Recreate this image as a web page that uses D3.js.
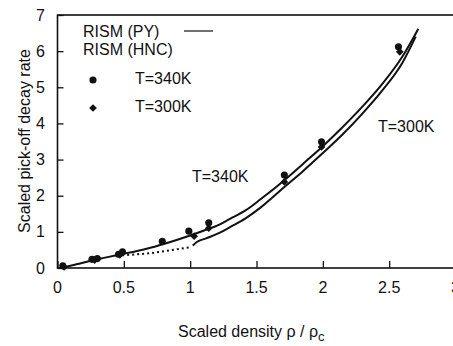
<!DOCTYPE html>
<html>
<head>
<meta charset="utf-8">
<script src="https://cdn.jsdelivr.net/npm/d3@7"></script>
<style>
  body { margin: 0; background: #fff; }
  text { font-family: "Liberation Sans", Arial, sans-serif; fill: #111; }
</style>
</head>
<body>
<script>
(function () {

    //curve: [scaled density, scaled rate]
    var curve340 = [[0.05, 0.02], [0.15, 0.11], [0.25, 0.2], [0.35, 0.28], [0.48, 0.38], [0.6, 0.47], [0.7, 0.56],
        [0.85, 0.72], [1.0, 0.9], [1.1, 1.03], [1.22, 1.2], [1.3, 1.36], [1.42, 1.6], [1.53, 1.9], [1.71, 2.43],
        [1.85, 2.88], [2.0, 3.37], [2.15, 3.9], [2.3, 4.47], [2.45, 5.1], [2.6, 5.85], [2.72, 6.62]];
    var curve300 = [[1.02, 0.62], [1.05, 0.72], [1.12, 0.82], [1.22, 0.97], [1.3, 1.13], [1.42, 1.38], [1.53, 1.67],
        [1.71, 2.24], [1.85, 2.68], [2.0, 3.18], [2.15, 3.7], [2.3, 4.28], [2.45, 4.92], [2.6, 5.68], [2.7, 6.4]];
    var curveDotted = [[0.45, 0.34], [0.6, 0.38], [0.7, 0.41], [0.85, 0.49], [1.01, 0.58]];

    var dots340x = [0.04, 0.26, 0.30, 0.46, 0.49, 0.79, 0.99, 1.14, 1.71, 1.99, 2.57];
    var dots340y = [0.06, 0.24, 0.26, 0.38, 0.45, 0.74, 1.02, 1.25, 2.57, 3.49, 6.12];
    var diam300x = [0.05, 0.28, 0.47, 1.03, 1.14, 1.71, 1.99, 2.58];
    var diam300y = [0.03, 0.22, 0.36, 0.88, 1.10, 2.38, 3.35, 5.98];

    var xTicks = [0, 0.5, 1, 1.5, 2, 2.5, 3];
    var yTicks = [0, 1, 2, 3, 4, 5, 6, 7];

    var width = 453,
        height = 346;

    var svg = d3.select("body")
        .append("svg")
        .attr("width", width)
        .attr("height", height);

    var x = d3.scaleLinear().domain([0, 3]).range([57.5, 455.5]);
    var y = d3.scaleLinear().domain([0, 7]).range([268, 15]);

    //frame (right side falls off the picture)
    svg.append("rect")
        .attr("x", x(0))
        .attr("y", y(7))
        .attr("width", x(3) - x(0))
        .attr("height", y(0) - y(7))
        .attr("fill", "none")
        .attr("stroke", "#111")
        .attr("stroke-width", 1.6);

    //ticks point inward
    var xAxis = svg.append("g")
        .attr("transform", "translate(0," + y(0) + ")")
        .call(d3.axisTop(x).tickValues(xTicks).tickSize(7).tickFormat(""));
    xAxis.select(".domain").remove();
    xAxis.selectAll("line").attr("stroke", "#111").attr("stroke-width", 1.3);

    var yAxis = svg.append("g")
        .attr("transform", "translate(" + x(0) + ",0)")
        .call(d3.axisRight(y).tickValues(yTicks).tickSize(6).tickFormat(""));
    yAxis.select(".domain").remove();
    yAxis.selectAll("line").attr("stroke", "#111").attr("stroke-width", 1.3);

    svg.selectAll(".xlabel")
        .data(xTicks)
        .enter()
        .append("text")
        .attr("class", "xlabel")
        .attr("x", function (d) { return x(d); })
        .attr("y", 293)
        .attr("text-anchor", "middle")
        .style("font-size", "16px")
        .text(function (d) { return d; });

    svg.selectAll(".ylabel")
        .data(yTicks)
        .enter()
        .append("text")
        .attr("class", "ylabel")
        .attr("x", 45)
        .attr("y", function (d) { return y(d) + 5.5; })
        .attr("text-anchor", "end")
        .style("font-size", "16px")
        .text(function (d) { return d; });

    //axis titles
    var xTitle = svg.append("text")
        .attr("x", 178)
        .attr("y", 337)
        .style("font-size", "16px");
    xTitle.append("tspan").text("Scaled density  ρ / ρ");
    xTitle.append("tspan").attr("dy", 4).style("font-size", "13px").text("c");

    svg.append("text")
        .attr("transform", "translate(30,141) rotate(-90)")
        .attr("text-anchor", "middle")
        .style("font-size", "16px")
        .text("Scaled pick-off decay rate");

    //curves
    var line = d3.line()
        .x(function (d) { return x(d[0]); })
        .y(function (d) { return y(d[1]); })
        .curve(d3.curveMonotoneX);

    svg.append("path")
        .datum(curve340)
        .attr("d", line)
        .attr("fill", "none")
        .attr("stroke", "#111")
        .attr("stroke-width", 2);

    svg.append("path")
        .datum(curve300)
        .attr("d", line)
        .attr("fill", "none")
        .attr("stroke", "#111")
        .attr("stroke-width", 2);

    svg.append("path")
        .datum(curveDotted)
        .attr("d", line)
        .attr("fill", "none")
        .attr("stroke", "#111")
        .attr("stroke-width", 2)
        .attr("stroke-dasharray", "2,3");

    //markers
    var dot = d3.symbol().type(d3.symbolCircle).size(40);
    var diamond = d3.symbol().type(d3.symbolSquare).size(30);

    svg.selectAll(".dots")
        .data(dots340x)
        .enter()
        .append("path")
        .attr("class", "dots")
        .attr("d", dot)
        .attr("transform", function (d, i) {
            return "translate(" + x(d) + "," + y(dots340y[i]) + ")";
        })
        .attr("fill", "#111");

    svg.selectAll(".diamonds")
        .data(diam300x)
        .enter()
        .append("path")
        .attr("class", "diamonds")
        .attr("d", diamond)
        .attr("transform", function (d, i) {
            return "translate(" + x(d) + "," + y(diam300y[i]) + ") rotate(45)";
        })
        .attr("fill", "#111");

    //legend
    svg.append("text").attr("x", 83).attr("y", 37).style("font-size", "16px").text("RISM (PY)");
    svg.append("line")
        .attr("x1", 184).attr("x2", 213)
        .attr("y1", 31).attr("y2", 31)
        .attr("stroke", "#111").attr("stroke-width", 1.2);
    svg.append("text").attr("x", 83).attr("y", 55).style("font-size", "16px").text("RISM (HNC)");

    svg.append("path").attr("d", dot).attr("transform", "translate(93,80)").attr("fill", "#111");
    svg.append("text").attr("x", 135).attr("y", 84).style("font-size", "16px").text("T=340K");
    svg.append("path").attr("d", diamond).attr("transform", "translate(93,108) rotate(45)").attr("fill", "#111");
    svg.append("text").attr("x", 135).attr("y", 112).style("font-size", "16px").text("T=300K");

    //curve labels
    svg.append("text").attr("x", 192).attr("y", 182).style("font-size", "16px").text("T=340K");
    svg.append("text").attr("x", 378).attr("y", 132).style("font-size", "16px").text("T=300K");
})();
</script>
</body>
</html>
